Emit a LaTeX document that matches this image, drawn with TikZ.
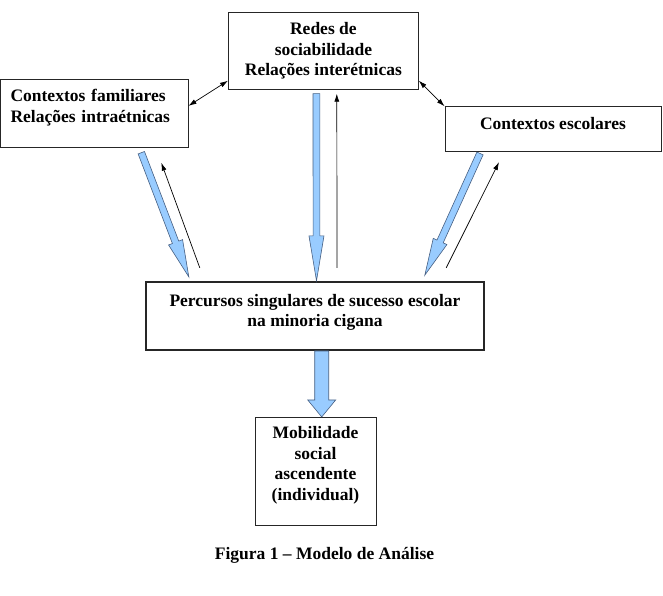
\documentclass[tikz,border=0pt]{standalone}
\usepackage{fontspec}
\setmainfont{Liberation Serif}
\usetikzlibrary{positioning, calc, arrows.meta}

\definecolor{flowfill}{RGB}{153,204,255}
\definecolor{flowedge}{RGB}{70,95,130}

\tikzset{
  box/.style={draw=black!85, line width=0.8pt, inner xsep=0pt, inner ysep=0pt,
    align=center, font=\bfseries\fontsize{17.5pt}{20.5pt}\selectfont},
  flow/.style={fill=flowfill, draw=flowedge, line width=0.6pt, line join=miter},
  back/.style={-{Latex[length=8pt,width=5pt]}, line width=0.7pt},
  link/.style={{Latex[length=8pt,width=5pt]}-{Latex[length=8pt,width=5pt]}, line width=0.7pt},
}

% fat arrow: from, to, half shaft, half head, head length
\newcommand{\fatarrow}[5]{%
  \coordinate (fa-base) at ($(#2)!#5!(#1)$);
  \filldraw[flow] ($(#1)!#3!90:(#2)$) -- ($(fa-base)!#3!90:(#2)$)
    -- ($(fa-base)!#4!90:(#2)$) -- (#2) -- ($(fa-base)!#4!-90:(#2)$)
    -- ($(fa-base)!#3!-90:(#2)$) -- ($(#1)!#3!-90:(#2)$) -- cycle;}

\begin{document}
\begin{tikzpicture}[x=1pt, y=-1pt]
  \useasboundingbox (0,0) rectangle (663,596);

  \node[box, minimum width=190pt, text height=63.7pt, text depth=13.3pt] (redes) at (323.4,50.8)
    {Redes de\\sociabilidade\\Relações interétnicas};
  \node[box, inner xsep=10pt, text width=167.5pt, align=left, text height=22.4pt, text depth=45.6pt] (fam) at (94.3,113.3)
    {Contextos familiares\\Relações intraétnicas};
  \node[box, minimum width=216pt, text height=22.6pt, text depth=21.7pt] (esc) at (553,128.9)
    {Contextos escolares};
  \node[box, line width=1.8pt, minimum width=338.6pt, text height=45pt, text depth=23.3pt] (perc) at (315,315.9)
    {Percursos singulares de sucesso escolar\\na minoria cigana};
  \node[box, minimum width=121pt, text height=82.7pt, text depth=25pt] (mob) at (315.5,471.2)
    {Mobilidade\\social\\ascendente\\(individual)};
  \node[font=\bfseries\fontsize{17.5pt}{20.5pt}\selectfont] (cap) at (324.5,555)
    {Figura 1 – Modelo de Análise};

  % links between the contexts
  \draw[link] ([yshift=-27pt]fam.north east) -- ([yshift=9pt]redes.south west);
  \draw[link] ([yshift=9pt]redes.south east) -- (esc.north west);

  % influences on the school paths
  \coordinate (l-from) at ([xshift=47pt,yshift=-5pt]fam.south);
  \coordinate (l-to) at ([xshift=44pt,yshift=4pt]perc.north west);
  \coordinate (m-from) at ([xshift=-7pt,yshift=-4pt]redes.south);
  \coordinate (m-to) at ([xshift=1.5pt]perc.north);
  \coordinate (r-from) at ([xshift=-73pt,yshift=-2pt]esc.south);
  \coordinate (r-to) at ([xshift=-60.4pt,yshift=5.7pt]perc.north east);
  \coordinate (b-from) at ([xshift=6.7pt]perc.south);
  \coordinate (b-to) at ([xshift=6.2pt]mob.north);
  \fatarrow{l-from}{l-to}{3.4pt}{7.5pt}{37pt}
  \fatarrow{m-from}{m-to}{3.4pt}{7.5pt}{45pt}
  \fatarrow{r-from}{r-to}{3.4pt}{7.5pt}{37pt}
  \fatarrow{b-from}{b-to}{7pt}{14pt}{17pt}

  % feedback
  \draw[back] ([xshift=55pt,yshift=13pt]perc.north west) -- ([xshift=67pt,yshift=-15pt]fam.south);
  \draw[back] ([xshift=22pt,yshift=13pt]perc.north) -- ([xshift=13.4pt,yshift=-4pt]redes.south);
  \draw[back] ([xshift=-39pt,yshift=13pt]perc.north east) -- ([xshift=-54pt,yshift=-10.7pt]esc.south);
\end{tikzpicture}
\end{document}
